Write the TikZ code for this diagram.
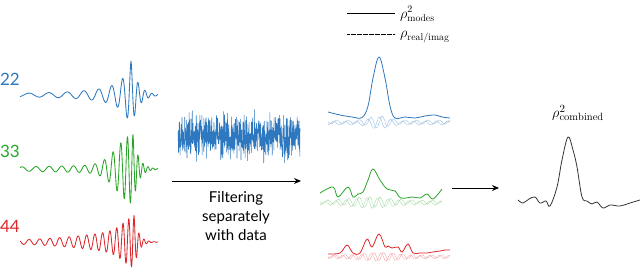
\documentclass[tikz,border=0pt]{standalone}
\usepackage{fontspec}
\setsansfont{Lato}
\usetikzlibrary{arrows.meta}
\definecolor{cA}{RGB}{45,120,190}
\definecolor{cB}{RGB}{40,165,40}
\definecolor{cC}{RGB}{220,40,45}
\tikzset{
  wave/.style={line width=0.85pt, line join=round},
  snr/.style={line width=0.8pt, line join=round},
  dots/.style={line width=0.55pt, dash pattern=on 0.6pt off 0.6pt},
  modelabel/.style={font=\sffamily\fontsize{17}{19}\selectfont, inner sep=0pt},
  arr/.style={line width=1pt, -{Stealth[length=7pt,width=6pt]}},
}
\begin{document}
\begin{tikzpicture}[x=1pt,y=-1pt]
\useasboundingbox (0,0) rectangle (640,271);
% mode labels
\node[modelabel, text=cA] (l22) at (10,79) {22};
\node[modelabel, text=cB] (l33) at (10,151) {33};
\node[modelabel, text=cC] (l44) at (10,226) {44};
% 22 waveform
\draw[wave, cA] plot[domain=20:131, samples=350]
  (\x,{95 - 34*pow(1+(131-\x)/10,-1.2)*cos(deg(2.82*(pow(131-\x+6,0.625)-pow(6,0.625))))})
  -- plot[domain=131:158, samples=120]
  (\x,{95 - 34*exp(-(\x-131)/7)*cos(deg(0.9*(\x-131)))});
% 33 waveform
\draw[wave, cB] plot[domain=20:133, samples=400]
  (\x,{169 - (2 + 0.02*(\x-13) + 30*exp(-((133-\x)/22)^2))*cos(deg(4.23*(pow(133-\x+7,0.625)-pow(7,0.625))))})
  -- plot[domain=133:158, samples=120]
  (\x,{169 - 34.4*exp(-(\x-133)/5.5)*cos(deg(1.26*(\x-133)))});
% 44 waveform
\draw[wave, cC] plot[domain=20:134, samples=500]
  (\x,{242 - (2.2*exp(0.0173*(\x-20)) + 10*exp(-((134-\x)/15)^2))*cos(deg(5.64*(pow(134-\x+15,0.625)-pow(15,0.625))))})
  -- plot[domain=134:158, samples=120]
  (\x,{242 - 26.8*exp(-(\x-134)/4.5)*cos(deg(1.26*(\x-134)))});
% noise
\pgfmathsetseed{11}
\draw[cA, line width=0.55pt] plot[domain=178:300, samples=650]
  (\x,{137 + 10.5*(rand+rand+rand)});
% first arrow
\coordinate (a1s) at (172,181);
\coordinate (a1e) at (301,181);
\draw[arr] (a1s) -- (a1e);
\node[font=\sffamily\fontsize{15}{19}\selectfont, align=center, inner sep=0pt] (filt) at (236,216)
  {Filtering\\separately\\with data};
% legend
\coordinate (ls1) at (347,13); \coordinate (le1) at (395,13);
\coordinate (ls2) at (347,34); \coordinate (le2) at (395,34);
\draw[line width=0.6pt] (ls1) -- (le1);
\draw[dots, black] (ls2) -- (le2);
\node[anchor=west, inner sep=0pt, font=\fontsize{14}{16}\selectfont] (leg1) at (400,14) {$\rho^2_{\mathrm{modes}}$};
\node[anchor=west, inner sep=0pt, font=\fontsize{14}{16}\selectfont] (leg2) at (400,37) {$\rho_{\mathrm{real/imag}}$};
% blue SNR
\draw[dots, cA!60] plot[domain=328:450, samples=300]
  (\x,{122 + (1.8+4*exp(-((\x-379)/13)^2))*sin(deg(0.55*(\x-328)))});
\draw[dots, cA!60] plot[domain=328:450, samples=300]
  (\x,{123 + (1.8+4*exp(-((\x-379)/13)^2))*cos(deg(0.55*(\x-328)))});
\draw[snr, cA] plot[smooth, tension=0.6] coordinates {
  (328,112) (340,115) (352,117) (362,117.5) (368,106) (373,78) (379,57) (385,78)
  (390,106) (395,118) (405,117) (415,118) (425,116) (435,115) (442,117) (450,118)};
% green SNR
\draw[dots, cB!50] plot[domain=320:442, samples=300]
  (\x,{202 + (1.8+3.5*exp(-((\x-370)/25)^2))*sin(deg(0.6*(\x-320)))});
\draw[dots, cB!50] plot[domain=320:442, samples=300]
  (\x,{203 + (1.8+3.5*exp(-((\x-370)/25)^2))*cos(deg(0.6*(\x-320)))});
\draw[snr, cB] plot[smooth, tension=0.6] coordinates {
  (320,193) (333,187) (338,197) (348,187) (353,197) (358,194) (363,192) (368,180)
  (373,169) (380,180) (387,189) (395,191) (401,198) (413,197) (420,198) (427,194)
  (433,199) (442,189)};
% red SNR
\draw[dots, cC!50] plot[domain=328:450, samples=300]
  (\x,{256.5 + (1.5+2.5*exp(-((\x-380)/25)^2))*sin(deg(0.65*(\x-328)))});
\draw[dots, cC!50] plot[domain=328:450, samples=300]
  (\x,{257 + (1.5+2.5*exp(-((\x-380)/25)^2))*cos(deg(0.65*(\x-328)))});
\draw[snr, cC] plot[smooth, tension=0.6] coordinates {
  (328,254) (340,253) (347,245) (353,253) (360,253) (367,239) (372,247) (379,234)
  (385,247) (388,246) (392,248) (398,247) (402,252) (408,244) (413,253) (420,253)
  (427,253) (433,252) (440,251) (445,250) (450,250)};
% second arrow
\coordinate (a2s) at (452,188);
\coordinate (a2e) at (499,188);
\draw[arr] (a2s) -- (a2e);
% combined
\node[inner sep=0pt, font=\fontsize{15}{17}\selectfont] (comb) at (578,113) {$\rho^2_{\mathrm{combined}}$};
\draw[line width=0.8pt, line join=round, black!80] plot[smooth, tension=0.6] coordinates {
  (518,200) (523,203) (529,199) (535,197) (540,203) (546,201) (550,206) (557,187)
  (562,160) (568,137) (573,150) (577,167) (582,197) (587,201) (592,204) (597,202)
  (603,208) (610,205) (620,206) (630,203) (640,200)};
\end{tikzpicture}
\end{document}
